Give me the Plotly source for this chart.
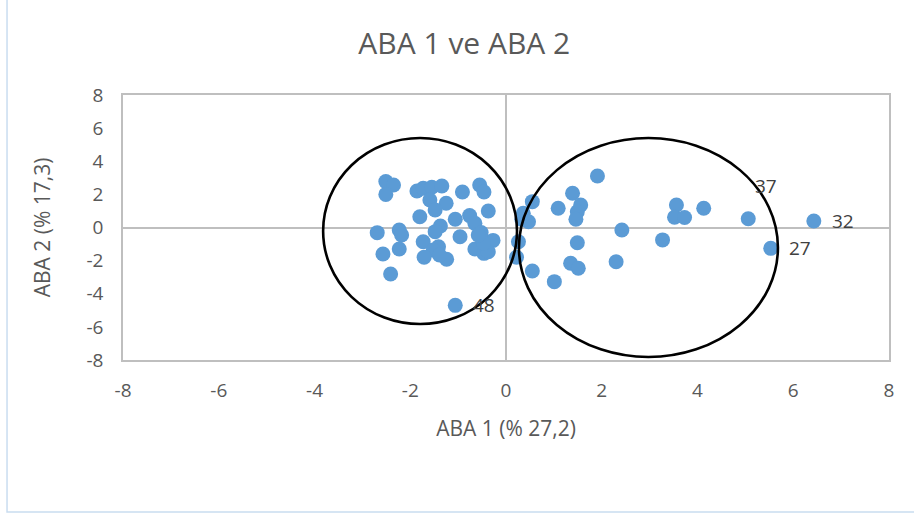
import plotly.graph_objects as go

# Component scores: first cluster (left) and second cluster (right)
aba1_left = [-2.51, -2.35, -2.51, -1.86, -1.73, -1.55, -1.34, -1.59, -1.25, -1.48,
             -0.91, -0.55, -0.46, -0.37, -1.80, -1.06, -0.76, -0.65, -1.37, -1.48,
             -2.69, -2.23, -2.18, -0.96, -0.52, -0.47, -0.27, -1.73, -1.41, -1.52,
             -0.65, -0.46, -0.37, -2.57, -2.23, -1.71, -1.24, -1.39, -2.41, -1.06,
             -0.47, -0.58]
aba2_left = [2.77, 2.57, 2.00, 2.20, 2.37, 2.43, 2.51, 1.66, 1.46, 1.06,
             2.14, 2.57, 2.14, 1.00, 0.65, 0.50, 0.72, 0.25, 0.09, -0.25,
             -0.31, -0.15, -0.45, -0.56, -0.30, -0.78, -0.78, -0.86, -1.16, -1.36,
             -1.30, -1.56, -1.46, -1.60, -1.30, -1.80, -1.92, -1.66, -2.81, -4.70,
             -0.95, -0.45]
aba1_right = [1.91, 1.39, 0.55, 1.09, 1.56, 1.49, 1.46, 0.36, 0.33, 0.47,
              2.42, 0.26, 1.49, 0.22, 0.55, 1.35, 1.51, 2.30, 1.01, 3.56,
              3.52, 3.73, 4.13, 3.27, 5.06, 5.53, 6.43]
aba2_right = [3.11, 2.07, 1.56, 1.16, 1.36, 0.95, 0.50, 0.86, 0.50, 0.35,
              -0.15, -0.86, -0.92, -1.80, -2.63, -2.16, -2.46, -2.07, -3.27, 1.36,
              0.62, 0.60, 1.16, -0.75, 0.53, -1.26, 0.39]

# Labelled observations
label_ids = ["48", "37", "32", "27"]
label_x = [-1.06, 5.06, 6.43, 5.53]
label_y = [-4.70, 0.53, 0.39, -1.26]

tick_vals = [-8, -6, -4, -2, 0, 2, 4, 6, 8]
tick_text = ["-8", "-6", "-4", "-2", "0", "2", "4", "6", "8"]

FONT = "Open Sans, sans-serif"
GREY_TXT = "#595959"
AXIS_GREY = "#bfbfbf"
BLUE = "#5b9bd5"

fig = go.Figure()
fig.add_trace(go.Scatter(
    x=aba1_left + aba1_right, y=aba2_left + aba2_right,
    mode="markers",
    marker=dict(color=BLUE, size=15, line=dict(width=0)),
    hoverinfo="x+y", showlegend=False,
))

# Point labels (37 sits above its point)
yshifts = [0, 33, 0, 0]
for t, x, y, ys in zip(label_ids, label_x, label_y, yshifts):
    fig.add_annotation(x=x, y=y, text=t, showarrow=False, xref="x", yref="y",
                       xanchor="left", yanchor="middle", xshift=16 if ys == 0 else 5,
                       yshift=ys, font=dict(family=FONT, size=19, color="#404040"))

# Cluster outlines
fig.add_shape(type="circle", xref="x", yref="y", x0=-3.82, x1=0.23, y0=-5.83, y1=5.40,
              line=dict(color="black", width=2.6), layer="above")
fig.add_shape(type="circle", xref="x", yref="y", x0=0.27, x1=5.68, y0=-7.82, y1=5.40,
              line=dict(color="black", width=2.6), layer="above")

# Outer chart border
fig.add_shape(type="rect", xref="paper", yref="paper", x0=-0.1514, x1=1.06, y0=-0.5736, y1=1.4,
              line=dict(color="#c9ddf0", width=1.5), layer="below")

axis_common = dict(
    range=[-8, 8], tickvals=tick_vals, ticktext=tick_text, ticks="", showgrid=False,
    zeroline=True, zerolinecolor=AXIS_GREY, zerolinewidth=1.5,
    showline=True, linecolor=AXIS_GREY, linewidth=1.5, mirror=True,
    tickfont=dict(family=FONT, size=19, color=GREY_TXT),
    fixedrange=True,
)

fig.update_layout(
    width=914, height=515,
    margin=dict(l=123, r=25, t=95, b=155),
    paper_bgcolor="white", plot_bgcolor="white",
    title=dict(text="ABA 1 ve ABA 2", x=0.508, xanchor="center", y=0.916, yanchor="middle",
               font=dict(family=FONT, size=30, color=GREY_TXT)),
    xaxis=dict(axis_common, ticklabelstandoff=12,
               title=dict(text="ABA 1 (% 27,2)", standoff=20,
                          font=dict(family=FONT, size=21, color=GREY_TXT))),
    yaxis=dict(axis_common, ticklabelstandoff=14,
               title=dict(text="ABA 2 (% 17,3)", standoff=30,
                          font=dict(family=FONT, size=21, color=GREY_TXT))),
)

fig.write_html("out.html")
